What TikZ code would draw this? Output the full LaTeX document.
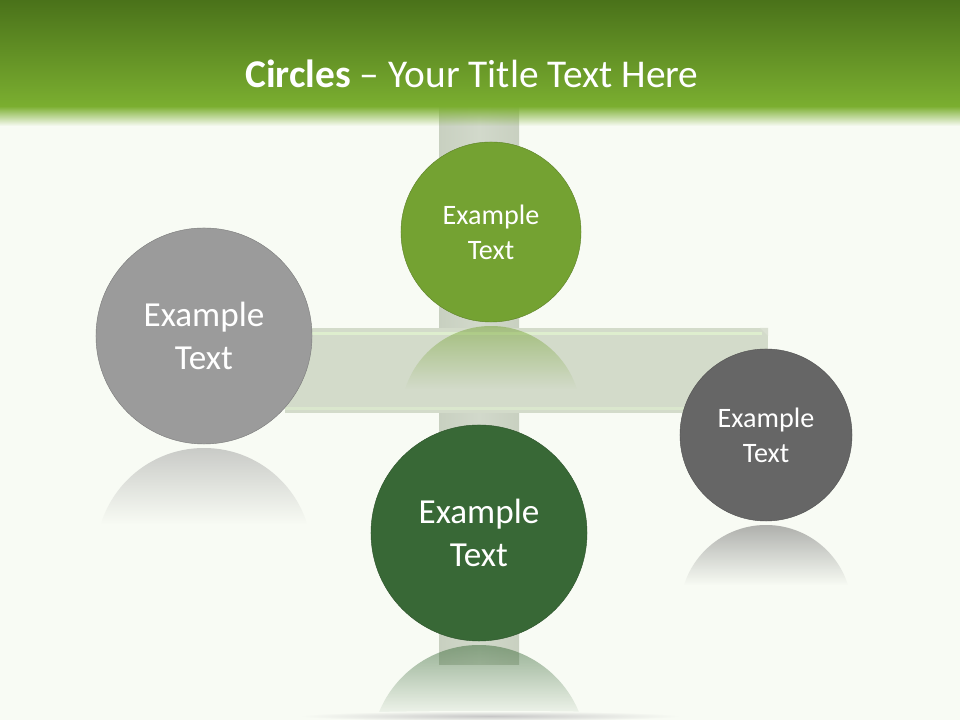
\documentclass[tikz,border=0pt]{standalone}
\usepackage{fontspec}
\setmainfont{Carlito}
\usepackage{xcolor}
\usepackage{tikz}
\usetikzlibrary{fadings}

\definecolor{bgcol}{RGB}{248,251,244}
\definecolor{hdrtop}{RGB}{74,114,26}
\definecolor{hdrbot}{RGB}{123,175,48}
\definecolor{barcol}{RGB}{211,219,202}
\definecolor{barhi}{RGB}{222,238,206}
\definecolor{vbarmid}{RGB}{210,217,203}
\definecolor{vbarside}{RGB}{200,208,192}
\definecolor{topgreen}{RGB}{116,162,50}
\definecolor{botgreen}{RGB}{56,104,54}
\definecolor{lightgrey}{RGB}{155,155,155}
\definecolor{darkgrey}{RGB}{102,102,102}

\pgfdeclareradialshading[rimcol]{rim}{\pgfpoint{0bp}{0bp}}{%
  color(0bp)=(rimcol); color(39bp)=(rimcol); color(45bp)=(rimcol!86!black);
  color(48.5bp)=(rimcol!70!black); color(50bp)=(rimcol!75!black)}

\tikzfading[name=reflfade, top color=transparent!50, bottom color=transparent!100]
\tikzfading[name=hdrfade, top color=transparent!0, bottom color=transparent!100]

\tikzset{
  rim color/.style={/utils/exec={\colorlet{rimcol}{#1}}, shading=rim},
  ball/.style={shape=circle, draw=#1!80!black, line width=0.3pt, rim color=#1,
    text=white, align=center, inner sep=0pt},
  smalltxt/.style={font=\fontsize{20}{25}\selectfont},
  bigtxt/.style={font=\fontsize{25}{31}\selectfont}
}

\begin{document}
\begin{tikzpicture}[x=0.025cm, y=0.025cm]
    \useasboundingbox (0,0) rectangle (960,720);
    \fill[bgcol] (0,0) rectangle (960,720);
    % bars
    \shade[left color=vbarside, right color=vbarside, middle color=vbarmid] (439,55) rectangle (519,612);
    \fill[barcol] (285,307) rectangle (768,392);
    \fill[barhi] (285,385) rectangle (762,388);
    \fill[barhi!60!barcol] (285,310) rectangle (768,313);
    \fill[barcol!85!white] (760,392) -- (768,392) -- (768,384) -- cycle;
    % reflections
    \foreach \cx/\cy/\r/\col in {491/488/90/topgreen, 204/384/108/lightgrey,
        479/187/108/botgreen, 766/285/86/darkgrey} {
      \begin{scope}
        \clip (\cx,\cy-2*\r-4) circle (\r);
        \fill[\col, path fading=reflfade] (\cx-\r,\cy-\r-4) rectangle (\cx+\r,\cy-1.7*\r-4);
      \end{scope}
    }
    % faint floor shadow
    \shade[inner color=black!22, outer color=bgcol] (490,4) ellipse (190 and 5);
    % header
    \shade[top color=hdrtop, bottom color=hdrbot] (0,720) rectangle (960,613);
    \fill[hdrbot, path fading=hdrfade] (0,614) rectangle (960,594);
    \node[text=white, anchor=base, font=\fontsize{28}{34}\selectfont] (title) at (472,632)
        {\textbf{Circles} – Your Title Text Here};
    % circles
    \node[ball=topgreen, minimum size=4.5cm, smalltxt] (topc) at (491,488) {Example\\Text};
    \node[ball=lightgrey, minimum size=5.4cm, bigtxt] (leftc) at (204,384) {Example\\Text};
    \node[ball=botgreen, minimum size=5.4cm, bigtxt] (botc) at (479,187) {Example\\Text};
    \node[ball=darkgrey, minimum size=4.3cm, smalltxt] (rightc) at (766,285) {Example\\Text};
\end{tikzpicture}
\end{document}
